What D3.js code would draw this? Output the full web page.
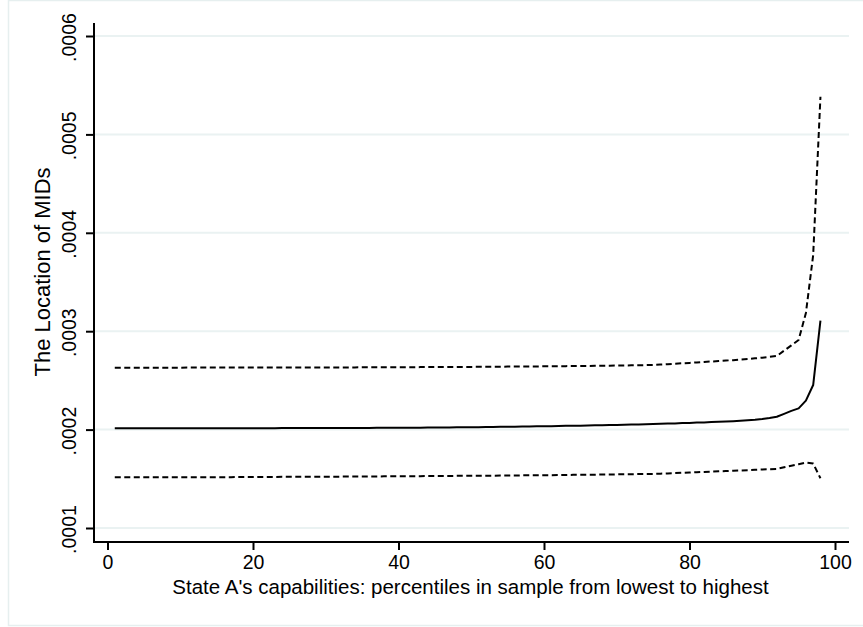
<!DOCTYPE html>
<html>
<head>
<meta charset="utf-8">
<script src="https://cdn.jsdelivr.net/npm/d3@7"></script>
<style>
  html, body { margin: 0; padding: 0; background: #ffffff; }
  svg { display: block; }
  text { font-family: "Liberation Sans", Arial, Helvetica, sans-serif; fill: #000; }
</style>
</head>
<body>
<svg id="chart" width="863" height="627"></svg>
<script>
// Percentile of State A's capabilities (x values)
const percentiles = d3.range(1, 99);

// Predicted probability (in units of 1e-4) and its 95% bounds, percentile 1..98
const estimate = [
  2.013, 2.013, 2.013, 2.013, 2.013, 2.013, 2.013, 2.013, 2.013, 2.013,
  2.013, 2.013, 2.013, 2.014, 2.014, 2.014, 2.014, 2.014, 2.014, 2.014,
  2.014, 2.014, 2.014, 2.015, 2.015, 2.015, 2.015, 2.015, 2.015, 2.016,
  2.016, 2.016, 2.016, 2.017, 2.017, 2.017, 2.018, 2.018, 2.018, 2.019,
  2.019, 2.020, 2.020, 2.021, 2.021, 2.022, 2.022, 2.023, 2.024, 2.024,
  2.025, 2.026, 2.027, 2.028, 2.029, 2.030, 2.031, 2.032, 2.033, 2.034,
  2.035, 2.036, 2.038, 2.039, 2.040, 2.042, 2.043, 2.045, 2.046, 2.048,
  2.049, 2.051, 2.053, 2.055, 2.057, 2.059, 2.061, 2.063, 2.066, 2.068,
  2.071, 2.073, 2.076, 2.079, 2.082, 2.086, 2.090, 2.095, 2.100, 2.108,
  2.118, 2.131, 2.160, 2.190, 2.216, 2.294, 2.453, 3.107
];

const upperBound = [
  2.629, 2.629, 2.629, 2.629, 2.629, 2.629, 2.629, 2.629, 2.629, 2.629,
  2.630, 2.630, 2.630, 2.630, 2.630, 2.630, 2.630, 2.630, 2.630, 2.630,
  2.631, 2.631, 2.631, 2.631, 2.631, 2.631, 2.631, 2.631, 2.631, 2.631,
  2.632, 2.632, 2.632, 2.632, 2.633, 2.633, 2.633, 2.633, 2.634, 2.634,
  2.634, 2.634, 2.635, 2.635, 2.635, 2.636, 2.636, 2.636, 2.637, 2.637,
  2.638, 2.638, 2.639, 2.639, 2.640, 2.640, 2.641, 2.641, 2.642, 2.643,
  2.644, 2.644, 2.645, 2.646, 2.647, 2.647, 2.648, 2.649, 2.650, 2.651,
  2.652, 2.653, 2.654, 2.655, 2.657, 2.661, 2.665, 2.670, 2.674, 2.678,
  2.683, 2.688, 2.692, 2.697, 2.702, 2.706, 2.711, 2.717, 2.724, 2.731,
  2.739, 2.748, 2.802, 2.856, 2.911, 3.185, 3.774, 5.383
];

const lowerBound = [
  1.515, 1.515, 1.515, 1.515, 1.515, 1.515, 1.515, 1.515, 1.515, 1.515,
  1.515, 1.515, 1.516, 1.516, 1.517, 1.517, 1.517, 1.518, 1.518, 1.518,
  1.519, 1.519, 1.519, 1.520, 1.520, 1.520, 1.521, 1.521, 1.521, 1.522,
  1.522, 1.522, 1.523, 1.523, 1.523, 1.524, 1.524, 1.525, 1.525, 1.526,
  1.526, 1.527, 1.527, 1.528, 1.528, 1.529, 1.529, 1.530, 1.530, 1.531,
  1.531, 1.532, 1.532, 1.533, 1.533, 1.534, 1.535, 1.535, 1.536, 1.537,
  1.537, 1.538, 1.539, 1.540, 1.540, 1.541, 1.542, 1.543, 1.544, 1.545,
  1.546, 1.547, 1.548, 1.549, 1.550, 1.552, 1.555, 1.558, 1.561, 1.564,
  1.567, 1.570, 1.573, 1.576, 1.579, 1.582, 1.585, 1.588, 1.591, 1.594,
  1.597, 1.600, 1.617, 1.633, 1.648, 1.664, 1.656, 1.505
];

const xTicks = [0, 20, 40, 60, 80, 100];
const yTicks = [0.0001, 0.0002, 0.0003, 0.0004, 0.0005, 0.0006];

const xTitle = "State A's capabilities: percentiles in sample from lowest to highest";
const yTitle = "The Location of MIDs";

// ---- layout ----
const svg = d3.select("#chart");
const plot = { left: 94, right: 849, top: 23, bottom: 542 };

const x = d3.scaleLinear().domain([0, 100]).range([107.5, 835]);
const y = d3.scaleLinear().domain([0.0001, 0.0006]).range([528, 36]);

// outer graph frame
svg.append("rect")
  .attr("x", 8.5).attr("y", 0.5)
  .attr("width", 880).attr("height", 625)
  .attr("fill", "#ffffff")
  .attr("stroke", "#e6efef")
  .attr("stroke-width", 1.5);

// horizontal grid lines
svg.append("g")
  .selectAll("line")
  .data(yTicks)
  .join("line")
  .attr("x1", plot.left).attr("x2", plot.right)
  .attr("y1", d => y(d)).attr("y2", d => y(d))
  .attr("stroke", "#eaf2f2")
  .attr("stroke-width", 2);

// series
const toRows = vals => percentiles.map((p, i) => ({ p, v: vals[i] * 1e-4 }));
const line = d3.line().x(d => x(d.p)).y(d => y(d.v));

const series = [
  { vals: upperBound, dash: "6,3.5" },
  { vals: lowerBound, dash: "6,3.5" },
  { vals: estimate, dash: null }
];

svg.append("g")
  .selectAll("path")
  .data(series)
  .join("path")
  .attr("d", s => line(toRows(s.vals)))
  .attr("fill", "none")
  .attr("stroke", "#000")
  .attr("stroke-width", 2)
  .attr("stroke-linejoin", "round")
  .attr("stroke-dasharray", s => s.dash);

// axes
const fmtY = d => d3.format(".4f")(d).replace(/^0/, "");

const yAxis = svg.append("g")
  .attr("transform", `translate(${plot.left},0)`)
  .call(d3.axisLeft(y).tickValues(yTicks).tickFormat(fmtY).tickSize(8).tickPadding(0));
yAxis.select(".domain").remove();
yAxis.selectAll(".tick line").attr("stroke", "#000").attr("stroke-width", 2);
yAxis.selectAll(".tick text")
  .attr("transform", "rotate(-90)")
  .attr("text-anchor", "middle")
  .attr("x", -1).attr("y", -18.5).attr("dy", null)
  .style("font-size", "19.5px")
  .style("font-family", "'Liberation Sans', Arial, sans-serif")
  .attr("fill", "#000");

const xAxis = svg.append("g")
  .attr("transform", `translate(0,${plot.bottom})`)
  .call(d3.axisBottom(x).tickValues(xTicks).tickFormat(d3.format("d")).tickSize(8).tickPadding(0));
xAxis.select(".domain").remove();
xAxis.selectAll(".tick line").attr("stroke", "#000").attr("stroke-width", 2);
xAxis.selectAll(".tick text")
  .attr("y", 26.5).attr("dy", null)
  .style("font-size", "19.5px")
  .style("font-family", "'Liberation Sans', Arial, sans-serif")
  .attr("fill", "#000");

// axis lines
svg.append("line")
  .attr("x1", plot.left).attr("x2", plot.left)
  .attr("y1", plot.top).attr("y2", plot.bottom + 1)
  .attr("stroke", "#000").attr("stroke-width", 2);
svg.append("line")
  .attr("x1", plot.left - 1).attr("x2", plot.right)
  .attr("y1", plot.bottom).attr("y2", plot.bottom)
  .attr("stroke", "#000").attr("stroke-width", 2);

// axis titles
svg.append("text")
  .attr("x", 470.5)
  .attr("y", 593.5)
  .attr("text-anchor", "middle")
  .style("font-size", "20.5px")
  .text(xTitle);

svg.append("text")
  .attr("transform", "translate(50,272) rotate(-90)")
  .attr("text-anchor", "middle")
  .style("font-size", "22px")
  .text(yTitle);
</script>
</body>
</html>
